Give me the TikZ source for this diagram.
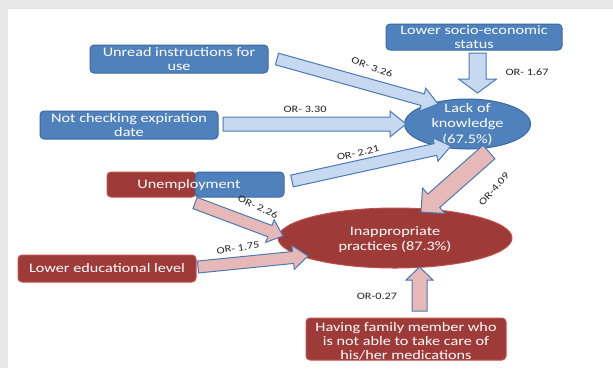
\documentclass[tikz,border=0pt]{standalone}
\usepackage{fontspec}
\setmainfont{Carlito}[FakeStretch=1.25]
\usetikzlibrary{calc,shapes.geometric}
\definecolor{bluefill}{HTML}{4F81BD}
\definecolor{blueline}{HTML}{3B68A0}
\definecolor{redfill}{HTML}{9E3A38}
\definecolor{redline}{HTML}{C0504D}
\definecolor{lblue}{HTML}{C6D9F1}
\definecolor{lpink}{HTML}{E6B9B8}
\definecolor{arrline}{HTML}{4A7AB5}
\definecolor{bggray}{HTML}{E8E8E8}
\definecolor{labcol}{HTML}{222222}
% block arrow: #1 tail, #2 tip, #3 shaft half width, #4 head half width, #5 head length, #6 style
\newcommand\blockarr[6]{%
  \coordinate (bab) at ($(#2)!#5!(#1)$);
  \draw[#6] ($(#1)!#3!90:(#2)$) -- ($(bab)!#3!90:(#2)$) -- ($(bab)!#4!90:(#2)$) -- (#2)
    -- ($(bab)!#4!-90:(#2)$) -- ($(bab)!#3!-90:(#2)$) -- ($(#1)!#3!-90:(#2)$) -- cycle;}
\tikzset{
 bbox/.style={draw=blueline, fill=bluefill, rounded corners=4pt, line width=1pt, inner sep=0pt},
 rbox/.style={draw=redline, fill=redfill, rounded corners=4pt, line width=1pt, inner sep=0pt},
 bell/.style={ellipse, draw=blueline, fill=bluefill, line width=1pt, inner sep=0pt},
 rell/.style={ellipse, draw=redline, fill=redfill, line width=1pt, inner sep=0pt},
 btext/.style={text=white, align=center, font=\fontsize{13}{14}\selectfont, inner sep=0pt},
 lab/.style={text=labcol, font=\fontsize{9.8}{11}\selectfont, inner sep=0pt},
 barrow/.style={draw=arrline, fill=lblue, line width=1pt, line join=miter},
 parrow/.style={draw=arrline, fill=lpink, line width=1pt, line join=miter},
}
\begin{document}
\begin{tikzpicture}[x=1pt,y=-1pt]
\useasboundingbox (0,0) rectangle (613,368);
\fill[bggray] (0,0) rectangle (613,368);
\fill[white] (8,9) rectangle (613,368);

% boxes
\node[bbox, minimum width=176pt, minimum height=26pt] (socio) at (474,37) {};
\node[btext] (socioT) at (474,37) {Lower socio-economic\\status};
\node[bbox, minimum width=178pt, minimum height=28pt] (unread) at (179,59) {};
\node[btext] (unreadT) at (179,59) {Unread instructions for\\use};
\node[bbox, minimum width=178pt, minimum height=28pt] (notcheck) at (129,125) {};
\node[btext] (notcheckT) at (129,125) {Not checking expiration\\date};
\node[rbox, minimum width=89pt, minimum height=25pt] (unempR) at (151.5,184.5) {};
\node[bbox, minimum width=89pt, minimum height=25pt] (unempB) at (239.5,184.5) {};
\node[btext] (unempT) at (189,185) {Unemployment};
\node[rbox, minimum width=178pt, minimum height=27pt] (lowed) at (107,268.5) {};
\node[btext] (lowedT) at (107,268.5) {Lower educational level};
\node[rbox, minimum width=200pt, minimum height=42pt] (family) at (406,339) {};
\node[btext] (familyT) at (406,341) {Having family member who\\is not able to take care of\\his/her medications};

% ellipses
\node[bell, minimum width=126pt, minimum height=50pt] (know) at (467.5,124) {};
\node[btext, font=\fontsize{13}{15.5}\selectfont] (knowT) at (467.5,124) {Lack of\\knowledge\\(67.5\%)};
\node[rell, minimum width=234pt, minimum height=60pt] (inap) at (395,238) {};
\node[btext, font=\fontsize{13}{15}\selectfont] (inapT) at (395,240) {Inappropriate\\practices (87.3\%)};

% arrow end points
\coordinate (a1s) at (277,59);   \coordinate (a1e) at (438,104);
\coordinate (a2s) at (223,124);  \coordinate (a2e) at (406,124);
\coordinate (a3s) at (292,181);  \coordinate (a3e) at (451,146);
\coordinate (a4s) at (477.5,53); \coordinate (a4e) at (477.5,93);
\coordinate (a5s) at (489,152);  \coordinate (a5e) at (421,212);
\coordinate (a6s) at (195,203);  \coordinate (a6e) at (283,236);
\coordinate (a7s) at (198,267);  \coordinate (a7e) at (308,256);
\coordinate (a8s) at (419.5,311);\coordinate (a8e) at (419.5,267);

\blockarr{a1s}{a1e}{6pt}{12pt}{16pt}{barrow}
\blockarr{a2s}{a2e}{7pt}{13pt}{16pt}{barrow}
\blockarr{a3s}{a3e}{6pt}{12pt}{16pt}{barrow}
\blockarr{a4s}{a4e}{8.5pt}{19pt}{14pt}{barrow}
\blockarr{a5s}{a5e}{9pt}{17pt}{17pt}{parrow}
\blockarr{a6s}{a6e}{6pt}{12pt}{14pt}{parrow}
\blockarr{a7s}{a7e}{6pt}{12pt}{15pt}{parrow}
\blockarr{a8s}{a8e}{7.5pt}{13.5pt}{13pt}{parrow}

% labels
\node[lab, rotate=-20] (l1) at (372,67) {OR- 3.26};
\node[lab] (l2) at (305,109) {OR- 3.30};
\node[lab, rotate=13] (l3) at (358,153) {OR- 2.21};
\node[lab] (l4) at (527,72) {OR- 1.67};
\node[lab, rotate=48] (l5) at (494,189) {OR-4.09};
\node[lab, rotate=-25] (l6) at (258,207) {OR- 2.26};
\node[lab, rotate=8] (l7) at (238,248) {OR- 1.75};
\node[lab] (l8) at (377,296) {OR-0.27};
\end{tikzpicture}
\end{document}
